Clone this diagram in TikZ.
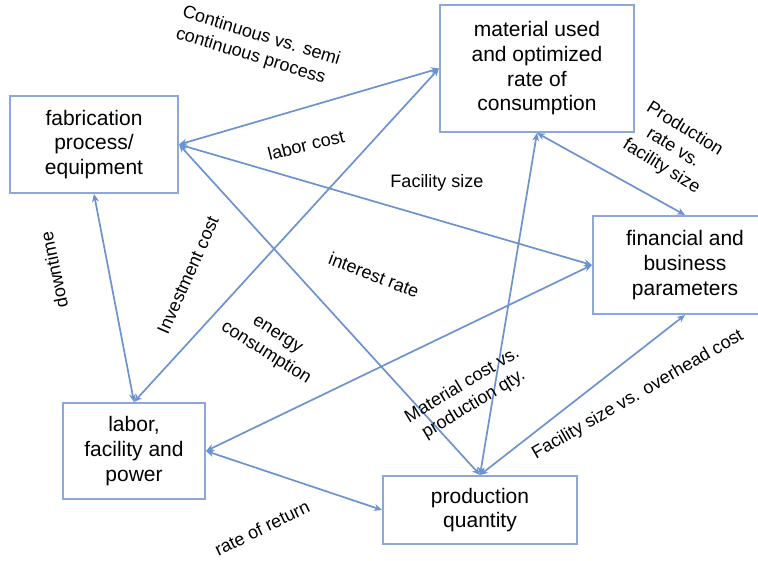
\documentclass[tikz,border=0pt]{standalone}
\usepackage{fontspec}
\setmainfont{Liberation Sans}
\usetikzlibrary{arrows.meta,positioning}

\definecolor{linkblue}{RGB}{108,146,208}
\definecolor{frameblue}{RGB}{140,168,216}

\begin{document}
\begin{tikzpicture}[
    x=1pt, y=1pt,
    box/.style={rectangle, draw=frameblue, line width=2pt, align=center, inner sep=0pt, font=\fontsize{21}{24.7}\selectfont},
    link/.style={{Stealth[length=8pt,width=7pt]}-{Stealth[length=8pt,width=7pt]}, draw=linkblue, line width=1.7pt},
    lbl/.style={font=\fontsize{18}{22}\selectfont, align=center, inner sep=0pt}
]
\useasboundingbox (0,0) rectangle (758,-561);
\node[box, minimum width=168pt, minimum height=97pt] (fab) at (94,-144.5) {fabrication\\process/\\equipment};
\node[box, minimum width=194pt, minimum height=127pt, above right=-38pt and 260pt of fab] (mat) {material used\\and optimized\\rate of\\consumption};
\node[box, minimum width=184pt, minimum height=98pt, below right=82pt and -43pt of mat] (fin) {financial and\\business\\parameters};
\node[box, minimum width=142pt, minimum height=96pt, below right=208pt and -117pt of fab] (lab) {labor,\\facility and\\power};
\node[box, minimum width=194pt, minimum height=68pt, below right=-25pt and 176pt of lab] (prod) {production\\quantity};
\draw[link] (fab.east) -- (mat.west);
\draw[link] (fab.east) -- (fin.west);
\draw[link] (fab.east) -- (prod.north);
\draw[link] (fab.south) -- (lab.north);
\draw[link] (mat.west) -- (lab.north);
\draw[link] (fin.west) -- (lab.east);
\draw[link] (lab.east) -- (prod.west);
\draw[link] (mat.south) -- (prod.north);
\draw[link] (mat.south) -- (fin.north);
\draw[link] (prod.north) -- (fin.south);
% edge labels
\node[lbl, rotate=-17, align=left] (lcont) at (258,-47) {Continuous vs. semi\\continuous process};
\node[lbl, rotate=14] (llabor) at (306,-145) {labor cost};
\node[lbl] (lfac) at (437,-183) {Facility size};
\node[lbl, rotate=-21] (lint) at (374,-275) {interest rate};
\node[lbl, rotate=102] (ldown) at (54,-270) {downtime};
\node[lbl, rotate=66] (linv) at (188,-275) {Investment cost};
\node[lbl, rotate=-32] (lenergy) at (271,-345) {energy\\consumption};
\node[lbl, rotate=-32] (lprodrate) at (673,-148) {Production\\rate vs.\\facility size};
\node[lbl, rotate=31] (lmatcost) at (468,-395) {Material cost vs.\\production qty.};
\node[lbl, rotate=30] (lfacover) at (638,-395) {Facility size vs. overhead cost};
\node[lbl, rotate=26] (lreturn) at (262,-528) {rate of return};
\end{tikzpicture}
\end{document}
